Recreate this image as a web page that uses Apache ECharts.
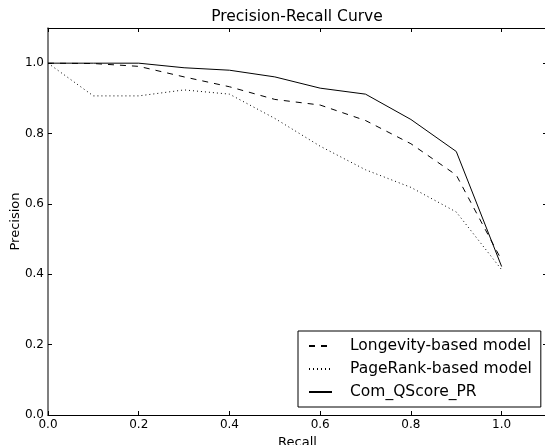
<!DOCTYPE html>
<html>
<head>
<meta charset="utf-8">
<script src="https://cdn.jsdelivr.net/npm/echarts@6/dist/echarts.min.js"></script>
<style>
html,body{margin:0;padding:0;background:#fff;}
#c{width:545px;height:445px;}
</style>
</head>
<body>
<div id="c"></div>
<script>
const recall = [0.0, 0.1, 0.2, 0.3, 0.4, 0.5, 0.6, 0.7, 0.8, 0.9, 1.0];
const longevity = [1.0, 0.999, 0.991, 0.961, 0.933, 0.897, 0.881, 0.837, 0.771, 0.682, 0.44];
const pagerank = [1.0, 0.907, 0.907, 0.924, 0.912, 0.843, 0.764, 0.697, 0.647, 0.577, 0.413];
const comQScore = [1.0, 1.0, 1.0, 0.987, 0.980, 0.961, 0.929, 0.912, 0.840, 0.749, 0.422];
const tickValues = [0.0, 0.2, 0.4, 0.6, 0.8, 1.0];
const seriesNames = ['Longevity-based model', 'PageRank-based model', 'Com_QScore_PR'];

const FONT = 'DejaVu Sans';
const pair = arr => recall.map((x, i) => [x, arr[i]]);

function axisBase(pos, showLabel, lineColor, lineWidth) {
  return {
    type: 'value', position: pos, min: 0, max: 1.1, interval: 0.2,
    splitLine: {show: false},
    axisLine: {show: true, onZero: false, lineStyle: {color: lineColor, width: lineWidth}},
    axisTick: {show: true, inside: true, length: 4, customValues: tickValues, lineStyle: {color: '#000', width: 1}},
    axisLabel: {show: showLabel, customValues: tickValues, margin: 4, color: '#000',
      fontFamily: FONT, fontSize: 12,
      formatter: v => (v > 1.05 ? '' : v.toFixed(1))}
  };
}

const chart = echarts.init(document.getElementById('c'), null, {renderer: 'canvas'});
const xBottom = Object.assign(axisBase('bottom', true, '#000', 1), {
  name: 'Recall', nameLocation: 'middle', nameGap: 20,
  nameTextStyle: {fontFamily: FONT, fontSize: 13, color: '#000'}
});
const xTop = axisBase('top', false, '#000', 1);
const yLeft = Object.assign(axisBase('left', true, '#555', 1.5), {
  name: 'Precision', nameLocation: 'middle', nameGap: 26, nameMoveOverlap: false,
  nameTextStyle: {fontFamily: FONT, fontSize: 13, color: '#000'}
});
const yRight = axisBase('right', false, '#000', 1);

const styles = [
  {type: [6, 6], color: '#000'},
  {type: [1, 3], color: '#000'},
  {type: 'solid', color: '#000'}
];
const dataArr = [longevity, pagerank, comQScore];

chart.setOption({
  animation: false,
  backgroundColor: '#fff',
  title: {
    text: 'Precision-Recall Curve', left: 297, top: 9, padding: 0, textAlign: 'center',
    textStyle: {fontFamily: FONT, fontSize: 15.5, fontWeight: 'normal', color: '#000'}
  },
  grid: {left: 48, right: -2, top: 28, bottom: 30, containLabel: false, outerBoundsMode: 'none'},
  xAxis: [xBottom, xTop],
  yAxis: [yLeft, yRight],
  legend: {
    orient: 'vertical', left: 298, top: 331,
    padding: [7, 9, 7, 10], itemGap: 7, itemWidth: 23, itemHeight: 14,
    borderColor: '#000', borderWidth: 1, backgroundColor: '#fff',
    itemStyle: {opacity: 0},
    textStyle: {fontFamily: FONT, fontSize: 15.5, color: '#000', padding: [0, 0, 0, 13]},
    data: seriesNames
  },
  series: seriesNames.map((n, i) => ({
    name: n, type: 'line', xAxisIndex: 0, yAxisIndex: 0,
    symbol: 'none', showSymbol: false,
    lineStyle: {width: 1, type: styles[i].type, color: styles[i].color},
    itemStyle: {color: '#000', opacity: 0},
    data: pair(dataArr[i])
  }))
});
</script>
</body>
</html>
